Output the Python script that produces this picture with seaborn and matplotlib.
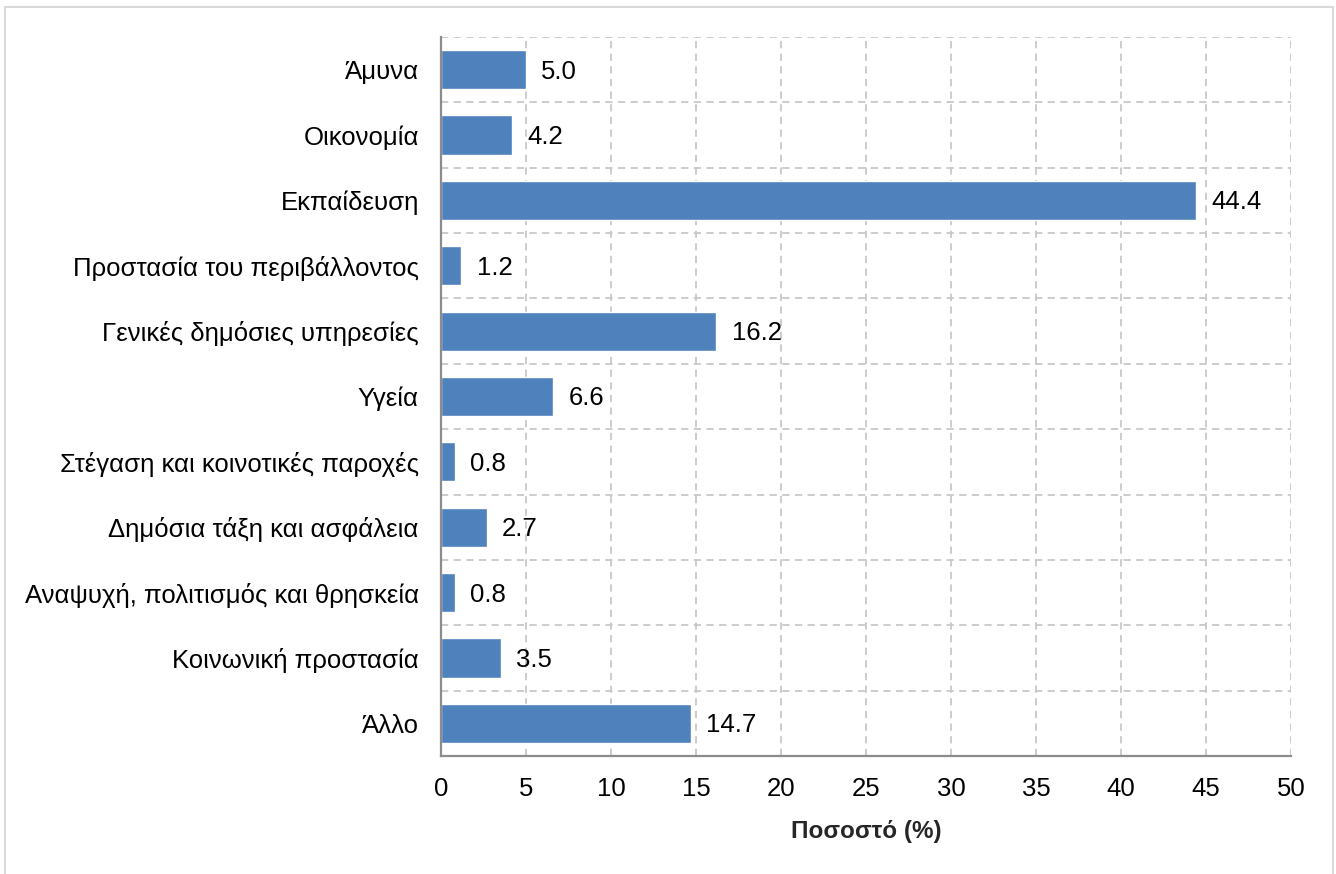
import matplotlib
matplotlib.use("Agg")
import matplotlib.pyplot as plt
import seaborn as sns
import pandas as pd
from matplotlib.patches import Rectangle

categories = [
    "Άμυνα",
    "Οικονομία",
    "Εκπαίδευση",
    "Προστασία του περιβάλλοντος",
    "Γενικές δημόσιες υπηρεσίες",
    "Υγεία",
    "Στέγαση και κοινοτικές παροχές",
    "Δημόσια τάξη και ασφάλεια",
    "Αναψυχή, πολιτισμός και θρησκεία",
    "Κοινωνική προστασία",
    "Άλλο",
]
values = [5.0, 4.2, 44.4, 1.2, 16.2, 6.6, 0.8, 2.7, 0.8, 3.5, 14.7]
x_ticks = [0, 5, 10, 15, 20, 25, 30, 35, 40, 45, 50]

df = pd.DataFrame({"category": categories, "value": values})

sns.set_theme(style="white")
plt.rcParams["font.family"] = ["Liberation Sans", "DejaVu Sans"]

FS = 18.5

fig = plt.figure(figsize=(13.36, 8.74), dpi=100)
ax = fig.add_axes([441 / 1336, 1 - 756 / 874, 850 / 1336, 719 / 874])

bar_color = "#4F81BD"
sns.barplot(data=df, y="category", x="value", orient="h", color=bar_color,
            width=0.6, saturation=1, ax=ax, zorder=3)

ax.set_xlim(0, 50)
ax.set_ylim(len(categories) - 0.5, -0.5)
ax.set_xticks(x_ticks)
ax.set_xticklabels([str(t) for t in x_ticks])

# dashed grid: vertical at major ticks, horizontal between categories
ax.set_yticks([i + 0.5 for i in range(-1, len(categories))], minor=True)
grid_kw = dict(color="#c8c8c8", linestyle=(0, (4, 3)), linewidth=1.3, zorder=0)
ax.grid(axis="x", which="major", **grid_kw)
ax.grid(axis="y", which="minor", **grid_kw)
ax.grid(axis="y", which="major", visible=False)
ax.set_axisbelow(True)

for side in ("top", "right"):
    ax.spines[side].set_visible(False)
for side in ("left", "bottom"):
    ax.spines[side].set_color("#8c8c8c")
    ax.spines[side].set_linewidth(1.6)
    ax.spines[side].set_zorder(4)

ax.tick_params(axis="both", which="both", length=0, labelsize=FS, colors="black")
ax.tick_params(axis="x", pad=15)
ax.tick_params(axis="y", pad=16)

ax.set_ylabel("")
ax.set_xlabel("Ποσοστό (%)", fontsize=FS - 1, fontweight="bold", labelpad=14)

for i, v in enumerate(values):
    ax.text(v + 0.9, i + 0.03, f"{v:.1f}", va="center", ha="left",
            fontsize=FS, color="black", zorder=5)

# light frame around the whole chart area
fig.patches.append(Rectangle((5 / 1336, -0.01), 1328 / 1336, 1 - 7 / 874 + 0.01,
                             transform=fig.transFigure, fill=False,
                             edgecolor="#d9d9d9", linewidth=1.5))

fig.savefig("out.png", dpi=100)
